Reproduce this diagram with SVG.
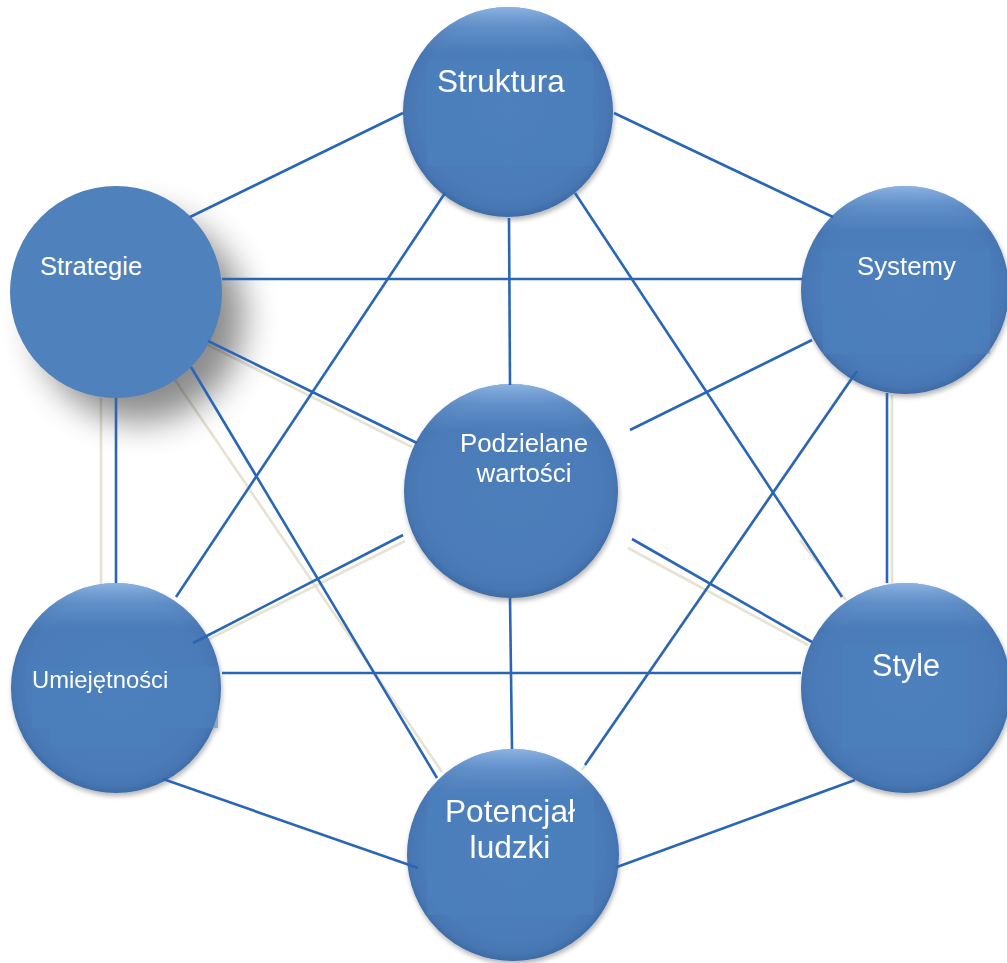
<svg xmlns="http://www.w3.org/2000/svg" width="1007" height="963" viewBox="0 0 1007 963">
  <defs>
    <style>
      .ball { fill: url(#ballFill); }
      .flat { fill: #4f81bd; }
      .rim { fill: url(#rimLight); }
      .pad { fill: #4f81bd; opacity: 0.55; }
      .lbl { font-family: "Liberation Sans", Arial, sans-serif; fill: #ffffff; }
      .link { stroke: #2a66b6; stroke-width: 2.6; fill: none; stroke-linecap: butt; }
      .ghost { stroke: #e6e2d4; stroke-width: 2.6; fill: none; }
    </style>
    <radialGradient id="ballFill" cx="50%" cy="48%" r="52%">
      <stop offset="0%" stop-color="#4c7eba"/>
      <stop offset="80%" stop-color="#4b7cb9"/>
      <stop offset="93%" stop-color="#4777b3"/>
      <stop offset="100%" stop-color="#3e6ba5"/>
    </radialGradient>
    <linearGradient id="rimLight" x1="0" y1="0" x2="0" y2="1">
      <stop offset="0%" stop-color="#a9cdf5" stop-opacity="0.7"/>
      <stop offset="10%" stop-color="#8fb8ea" stop-opacity="0.3"/>
      <stop offset="22%" stop-color="#8fb8ea" stop-opacity="0"/>
      <stop offset="100%" stop-color="#8fb8ea" stop-opacity="0"/>
    </linearGradient>
    <filter id="softShadow" x="-20%" y="-20%" width="140%" height="140%">
      <feGaussianBlur in="SourceAlpha" stdDeviation="2.5"/>
      <feOffset dx="1" dy="3" result="b"/>
      <feComponentTransfer><feFuncA type="linear" slope="0.3"/></feComponentTransfer>
      <feMerge><feMergeNode/><feMergeNode in="SourceGraphic"/></feMerge>
    </filter>
    <filter id="bigShadow" x="-60%" y="-60%" width="220%" height="220%">
      <feGaussianBlur stdDeviation="17"/>
    </filter>
  </defs>

  <rect width="1007" height="963" fill="#ffffff"/>

  <!-- pale reflections beside some links -->
  <g id="link-reflections">
    <line class="ghost" x1="101" y1="398" x2="101" y2="585"/>
    <line class="ghost" x1="175" y1="380" x2="442" y2="772"/>
    <line class="ghost" x1="582" y1="770" x2="853" y2="376"/>
    <line class="ghost" x1="628" y1="548" x2="808" y2="645"/>
    <line class="ghost" x1="892" y1="395" x2="892" y2="585"/>
    <line class="ghost" x1="208" y1="345" x2="412" y2="447"/>
    <line class="ghost" x1="205" y1="641" x2="405" y2="541"/>
    <line class="ghost" x1="800" y1="540" x2="846" y2="600"/>
  </g>

  <!-- Strategie -->
  <g id="node-strategie">
    <circle cx="140" cy="318" r="104" fill="#000000" opacity="0.45" filter="url(#bigShadow)"/>
    <circle class="flat" cx="116" cy="292" r="106"/>
    <text class="lbl" x="40" y="275" font-size="25.5">Strategie</text>
  </g>

  <!-- Struktura -->
  <g id="node-struktura" filter="url(#softShadow)">
    <circle class="ball" cx="508" cy="112" r="105"/>
    <circle class="rim" cx="508" cy="112" r="105"/>
    <rect class="pad" x="427" y="61" width="166" height="105"/>
    <text class="lbl" x="437" y="92" font-size="31.5">Struktura</text>
  </g>

  <!-- Systemy -->
  <g id="node-systemy" filter="url(#softShadow)">
    <circle class="ball" cx="905" cy="290" r="104"/>
    <circle class="rim" cx="905" cy="290" r="104"/>
    <rect class="pad" x="823" y="249" width="167" height="105"/>
    <text class="lbl" x="857" y="275" font-size="25.8">Systemy</text>
  </g>

  <!-- Podzielane wartości -->
  <g id="node-podzielane" filter="url(#softShadow)">
    <circle class="ball" cx="511" cy="491" r="107"/>
    <circle class="rim" cx="511" cy="491" r="107"/>
    <text class="lbl" x="524" y="452" font-size="25.9" text-anchor="middle">Podzielane</text>
    <text class="lbl" x="524" y="482" font-size="25.9" text-anchor="middle">wartości</text>
  </g>

  <!-- Umiejętności -->
  <g id="node-umiejetnosci" filter="url(#softShadow)">
    <circle class="ball" cx="116" cy="688" r="105"/>
    <circle class="rim" cx="116" cy="688" r="105"/>
    <rect class="pad" x="32" y="667" width="186" height="61"/>
    <rect class="pad" x="50" y="728" width="110" height="19"/>
    <text class="lbl" x="32" y="688" font-size="23.8">Umiejętności</text>
  </g>

  <!-- Style -->
  <g id="node-style" filter="url(#softShadow)">
    <circle class="ball" cx="906" cy="688" r="105"/>
    <circle class="rim" cx="906" cy="688" r="105"/>
    <rect class="pad" x="843" y="645" width="125" height="103"/>
    <text class="lbl" x="872" y="676" font-size="30.6">Style</text>
  </g>

  <!-- Potencjał ludzki -->
  <g id="node-potencjal" filter="url(#softShadow)">
    <circle class="ball" cx="513" cy="855" r="106"/>
    <circle class="rim" cx="513" cy="855" r="106"/>
    <rect class="pad" x="427" y="791" width="167" height="124"/>
    <text class="lbl" x="510" y="822" font-size="31.6" text-anchor="middle">Potencjał</text>
    <text class="lbl" x="510" y="858" font-size="31.6" text-anchor="middle">ludzki</text>
  </g>

  <!-- connectors between every pair of elements -->
  <g id="connectors">
    <line class="link" x1="403" y1="113" x2="190" y2="217"/>
    <line class="link" x1="614" y1="113" x2="833" y2="217"/>
    <line class="link" x1="509" y1="218" x2="510" y2="385"/>
    <line class="link" x1="445" y1="193" x2="176" y2="597"/>
    <line class="link" x1="575" y1="193" x2="842" y2="597"/>
    <line class="link" x1="222" y1="279" x2="802" y2="279"/>
    <line class="link" x1="208" y1="341" x2="417" y2="443"/>
    <line class="link" x1="116" y1="398" x2="116" y2="583"/>
    <line class="link" x1="191" y1="367" x2="437" y2="778"/>
    <line class="link" x1="812" y1="340" x2="630" y2="430"/>
    <line class="link" x1="857" y1="371" x2="585" y2="765"/>
    <line class="link" x1="887" y1="393" x2="887" y2="583"/>
    <line class="link" x1="403" y1="535" x2="193" y2="643"/>
    <line class="link" x1="632" y1="539" x2="812" y2="642"/>
    <line class="link" x1="510" y1="598" x2="512" y2="749"/>
    <line class="link" x1="222" y1="673" x2="801" y2="673"/>
    <line class="link" x1="163" y1="779" x2="418" y2="868"/>
    <line class="link" x1="855" y1="780" x2="617" y2="867"/>
  </g>
</svg>
